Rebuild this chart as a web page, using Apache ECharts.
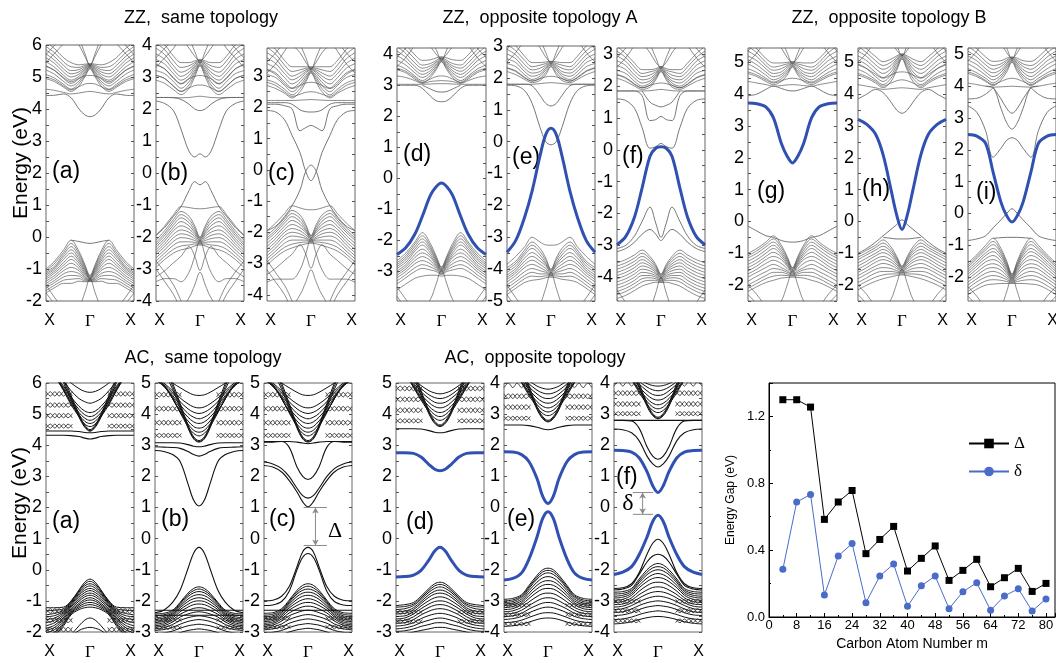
<!DOCTYPE html>
<html>
<head>
<meta charset="utf-8">
<script src="https://cdn.jsdelivr.net/npm/echarts@6/dist/echarts.min.js"></script>
<style>
html, body { margin: 0; padding: 0; background: #fff; }
#chart { width: 1056px; height: 663px; }
</style>
</head>
<body>
<div id="chart"></div>
<script>
// k points from Gamma (0) to X (1); every band is symmetric about Gamma
const kMain = [0, 0.12, 0.25, 0.43, 0.6, 0.8, 1];
const kSide = [0.4, 0.5, 0.6, 0.7, 0.8, 0.9, 1];

// ---------- ZZ, same topology ----------
const zzaBulk = [
    [-1.2, -0.85, -0.45, -0.1, -0.4, -0.75, -1.0],
    [-1.22, -0.9, -0.52, -0.2, -0.48, -0.82, -1.05],
    [-1.25, -0.95, -0.6, -0.3, -0.55, -0.9, -1.1],
    [-1.27, -1.0, -0.68, -0.4, -0.62, -0.95, -1.15],
    [-1.28, -1.05, -0.75, -0.5, -0.7, -1.0, -1.2],
    [-1.29, -1.1, -0.82, -0.6, -0.8, -1.06, -1.26],
    [-1.3, -1.15, -0.9, -0.7, -0.88, -1.12, -1.32],
    [-1.32, -1.2, -0.98, -0.82, -0.96, -1.2, -1.38],
    [-1.33, -1.25, -1.05, -0.95, -1.05, -1.27, -1.45],
    [-1.35, -1.29, -1.14, -1.08, -1.15, -1.35, -1.52],
    [-1.36, -1.33, -1.22, -1.2, -1.25, -1.42, -1.6],
    [-1.38, -1.37, -1.3, -1.32, -1.35, -1.5, -1.68],
    [-1.39, -1.4, -1.38, -1.45, -1.45, -1.58, -1.75],
    [-1.3, -1.75, -2.2, -2.5, -2.4, -2.2, -1.95],
    [-3, -3, -2.9, -2.6, -2.25, -1.9, -1.5],
    [-3, -3, -2.95, -2.7, -2.4, -2.1, -1.75],
    [4.55, 4.53, 4.5, 4.47, 4.52, 4.58, 4.62],
    [5.25, 5.0, 4.72, 4.55, 4.68, 4.85, 4.95],
    [5.27, 5.05, 4.8, 4.62, 4.77, 4.96, 5.08],
    [5.3, 5.1, 4.87, 4.72, 4.86, 5.08, 5.22],
    [5.32, 5.15, 4.95, 4.8, 4.95, 5.2, 5.35],
    [5.33, 5.2, 5.02, 4.9, 5.05, 5.3, 5.48],
    [5.35, 5.24, 5.09, 5.0, 5.15, 5.42, 5.6],
    [5.36, 5.28, 5.16, 5.1, 5.25, 5.52, 5.72],
    [5.38, 5.32, 5.23, 5.2, 5.36, 5.63, 5.85],
    [5.4, 5.36, 5.3, 5.32, 5.47, 5.75, 5.95],
    [5.42, 5.4, 5.38, 5.45, 5.6, 5.88, 6.1],
    [4.8, 4.78, 4.7, 4.6, 4.72, 4.9, 5.0],
    [5.05, 5.03, 4.96, 4.85, 4.98, 5.2, 5.33],
    [5.35, 5.75, 6.2, 6.6, 6.8, 6.8, 6.8],
    [5.38, 5.65, 6.0, 6.3, 6.4, 6.4, 6.4],
    [7, 7, 6.8, 6.4, 6.05, 5.75, 5.45],
    [7, 7, 6.9, 6.6, 6.3, 6.0, 5.7]
];
const zzaEdge = [
    [3.76, 3.82, 4.0, 4.35, 4.47, 4.43, 4.42],
    [-0.2, -0.18, -0.14, -0.1, null, null, null]
];
const zzbBulk = [
    [-1.12, -1.11, -1.08, -1.05, -1.3, -1.65, -1.95],
    [-2.0, -1.65, -1.35, -1.2, -1.45, -1.8, -2.1],
    [-2.02, -1.72, -1.45, -1.3, -1.53, -1.88, -2.18],
    [-2.05, -1.8, -1.55, -1.4, -1.62, -1.95, -2.25],
    [-2.07, -1.86, -1.65, -1.52, -1.71, -2.04, -2.32],
    [-2.1, -1.92, -1.75, -1.65, -1.8, -2.12, -2.4],
    [-2.12, -1.98, -1.85, -1.78, -1.91, -2.21, -2.48],
    [-2.15, -2.05, -1.95, -1.9, -2.02, -2.3, -2.55],
    [-2.17, -2.11, -2.05, -2.02, -2.13, -2.4, -2.65],
    [-2.2, -2.17, -2.15, -2.15, -2.25, -2.5, -2.75],
    [-2.22, -2.22, -2.25, -2.28, -2.38, -2.6, -2.85],
    [-2.25, -2.28, -2.35, -2.4, -2.5, -2.7, -2.95],
    [-2.1, -2.6, -3.1, -3.4, -3.3, -3.3, -3.4],
    [-3.05, -2.6, -2.3, -2.6, -2.8, -3.05, -3.25],
    [-3.1, -3.5, -3.9, -4.2, -4.2, -4.2, -4.2],
    [-5, -5, -4.6, -4.0, -3.5, -3.1, -2.75],
    [-5, -5, -4.8, -4.3, -3.8, -3.4, -3.0],
    [2.4, 2.38, 2.36, 2.35, 2.36, 2.36, 2.36],
    [3.35, 3.0, 2.65, 2.45, 2.6, 2.8, 2.9],
    [3.37, 3.08, 2.75, 2.55, 2.72, 2.95, 3.05],
    [3.4, 3.15, 2.85, 2.65, 2.85, 3.1, 3.2],
    [3.42, 3.22, 2.95, 2.78, 2.98, 3.25, 3.38],
    [3.45, 3.3, 3.05, 2.9, 3.1, 3.4, 3.55],
    [3.47, 3.35, 3.15, 3.02, 3.22, 3.55, 3.72],
    [3.5, 3.4, 3.25, 3.15, 3.35, 3.7, 3.9],
    [3.52, 3.45, 3.35, 3.3, 3.5, 3.85, 4.05],
    [3.55, 3.5, 3.45, 3.45, 3.65, 4.0, 4.2],
    [2.75, 2.73, 2.66, 2.55, 2.7, 2.95, 3.05],
    [3.05, 3.02, 2.95, 2.8, 2.95, 3.25, 3.4],
    [3.45, 3.8, 4.2, 4.5, 4.5, 4.5, 4.5],
    [3.5, 3.65, 3.9, 4.2, 4.3, 4.4, 4.4],
    [5, 5, 4.8, 4.3, 3.9, 3.6, 3.3],
    [5, 5, 4.9, 4.5, 4.2, 3.9, 3.6]
];
const zzbEdge = [
    [0.6, 0.5, 0.68, 1.36, 1.94, 2.17, 2.25],
    [1.95, 2.0, 2.15, 2.3, 2.35, 2.36, 2.36],
    [-0.37, -0.27, -0.55, -1.05, -1.35, -1.7, -1.95]
];
const zzcBulk = [
    [-1.28, -1.27, -1.22, -1.15, -1.4, -1.7, -1.95],
    [-2.1, -1.75, -1.45, -1.3, -1.55, -1.85, -2.1],
    [-2.12, -1.82, -1.55, -1.4, -1.62, -1.93, -2.18],
    [-2.15, -1.9, -1.65, -1.5, -1.7, -2.0, -2.25],
    [-2.17, -1.95, -1.75, -1.62, -1.8, -2.1, -2.35],
    [-2.2, -2.0, -1.85, -1.75, -1.9, -2.2, -2.45],
    [-2.22, -2.08, -1.95, -1.88, -2.0, -2.3, -2.55],
    [-2.25, -2.15, -2.05, -2.0, -2.1, -2.4, -2.65],
    [-2.27, -2.2, -2.15, -2.12, -2.22, -2.5, -2.75],
    [-2.3, -2.25, -2.25, -2.25, -2.35, -2.6, -2.85],
    [-2.32, -2.31, -2.33, -2.38, -2.48, -2.7, -2.95],
    [-2.35, -2.37, -2.42, -2.5, -2.6, -2.8, -3.05],
    [-2.2, -2.7, -3.2, -3.5, -3.5, -3.5, -3.6],
    [-3.15, -2.7, -2.4, -2.7, -2.9, -3.15, -3.35],
    [-3.2, -3.6, -4.0, -4.3, -4.3, -4.3, -4.3],
    [-5, -5, -4.8, -4.2, -3.7, -3.3, -2.9],
    [-5, -5, -4.9, -4.5, -4.0, -3.6, -3.2],
    [2.25, 2.24, 2.23, 2.22, 2.22, 2.22, 2.22],
    [3.1, 2.8, 2.5, 2.3, 2.45, 2.6, 2.7],
    [3.12, 2.88, 2.6, 2.4, 2.58, 2.78, 2.88],
    [3.15, 2.95, 2.7, 2.5, 2.7, 2.95, 3.05],
    [3.17, 3.02, 2.8, 2.62, 2.82, 3.1, 3.22],
    [3.2, 3.1, 2.9, 2.75, 2.95, 3.25, 3.4],
    [3.22, 3.15, 3.0, 2.88, 3.08, 3.4, 3.58],
    [3.25, 3.2, 3.1, 3.0, 3.2, 3.55, 3.75],
    [3.27, 3.25, 3.2, 3.15, 3.35, 3.7, 3.92],
    [3.3, 3.3, 3.3, 3.3, 3.5, 3.85, 4.1],
    [2.5, 2.48, 2.42, 2.35, 2.5, 2.7, 2.8],
    [2.8, 2.78, 2.7, 2.6, 2.75, 3.05, 3.2],
    [3.2, 3.6, 4.0, 4.3, 4.3, 4.3, 4.3],
    [3.25, 3.45, 3.75, 4.0, 4.1, 4.2, 4.2],
    [5, 5, 4.8, 4.2, 3.8, 3.4, 3.1],
    [5, 5, 4.9, 4.5, 4.1, 3.75, 3.45]
];
const zzcEdge = [
    [-0.35, -0.05, 0.55, 1.1, 1.6, 1.85, 1.9],
    [0.15, -0.05, -0.65, -1.15, -1.5, -1.8, -1.95],
    [1.42, 1.35, 1.25, 1.95, 2.05, 2.1, 2.1],
    [1.85, 1.86, 1.92, 2.1, 2.15, 2.15, 2.15]
];

// ---------- ZZ, opposite topology A ----------
const zzdBulk = [
    [-2.85, -2.5, -2.1, -1.75, -2.05, -2.4, -2.65],
    [-2.87, -2.55, -2.18, -1.85, -2.12, -2.48, -2.72],
    [-2.9, -2.6, -2.25, -1.95, -2.2, -2.55, -2.78],
    [-2.92, -2.65, -2.32, -2.05, -2.28, -2.62, -2.84],
    [-2.95, -2.7, -2.4, -2.15, -2.35, -2.7, -2.9],
    [-2.97, -2.75, -2.48, -2.28, -2.45, -2.78, -2.98],
    [-3.0, -2.8, -2.55, -2.4, -2.55, -2.85, -3.05],
    [-3.02, -2.85, -2.65, -2.52, -2.65, -2.92, -3.12],
    [-3.05, -2.9, -2.75, -2.65, -2.75, -3.0, -3.2],
    [-3.07, -2.95, -2.85, -2.78, -2.88, -3.1, -3.3],
    [-3.1, -3.0, -2.95, -2.9, -3.0, -3.2, -3.4],
    [-3.15, -3.12, -3.12, -3.15, -3.22, -3.4, -3.6],
    [-2.95, -3.4, -3.9, -4.2, -4.2, -4.2, -4.2],
    [-6, -6, -5.5, -4.8, -4.3, -3.9, -3.5],
    [-6, -6, -5.8, -5.2, -4.6, -4.2, -3.8],
    [3.05, 3.05, 3.04, 3.03, 3.03, 3.03, 3.03],
    [3.75, 3.5, 3.25, 3.08, 3.2, 3.4, 3.5],
    [3.77, 3.55, 3.32, 3.15, 3.3, 3.52, 3.65],
    [3.8, 3.6, 3.4, 3.25, 3.4, 3.65, 3.8],
    [3.82, 3.65, 3.47, 3.35, 3.5, 3.78, 3.95],
    [3.85, 3.7, 3.55, 3.45, 3.6, 3.9, 4.1],
    [3.87, 3.75, 3.62, 3.55, 3.72, 4.02, 4.25],
    [3.9, 3.8, 3.7, 3.65, 3.85, 4.15, 4.4],
    [3.92, 3.88, 3.82, 3.8, 3.98, 4.3, 4.55],
    [3.15, 3.14, 3.12, 3.06, 3.15, 3.25, 3.3],
    [3.3, 3.28, 3.2, 3.1, 3.25, 3.45, 3.55],
    [3.8, 4.15, 4.5, 4.8, 4.8, 4.8, 4.8],
    [3.85, 4.0, 4.25, 4.5, 4.6, 4.6, 4.6],
    [5.5, 5.5, 5.3, 4.8, 4.3, 3.9, 3.6],
    [5.5, 5.5, 5.4, 5.0, 4.6, 4.2, 3.9]
];
const zzdEdge = [
    [2.47, 2.5, 2.65, 2.9, 3.0, 3.0, 3.0],
    [2.78, 2.8, 2.88, 3.0, null, null, null]
];
const zzdBlue = [[-0.15, -0.27, -0.55, -1.22, -1.8, -2.23, -2.45]];
const zzeBulk = [
    [-3.25, -3.24, -3.15, -3.0, -3.3, -3.6, -3.85],
    [-4.0, -3.65, -3.35, -3.15, -3.4, -3.75, -3.95],
    [-4.02, -3.72, -3.45, -3.25, -3.48, -3.82, -4.02],
    [-4.05, -3.8, -3.55, -3.35, -3.55, -3.9, -4.1],
    [-4.07, -3.85, -3.65, -3.48, -3.65, -3.98, -4.18],
    [-4.1, -3.9, -3.75, -3.6, -3.75, -4.05, -4.25],
    [-4.12, -3.98, -3.85, -3.72, -3.85, -4.12, -4.32],
    [-4.15, -4.05, -3.95, -3.85, -3.95, -4.2, -4.4],
    [-4.17, -4.1, -4.05, -3.98, -4.08, -4.3, -4.5],
    [-4.2, -4.15, -4.15, -4.1, -4.2, -4.4, -4.6],
    [-4.22, -4.21, -4.24, -4.22, -4.3, -4.5, -4.7],
    [-4.25, -4.27, -4.32, -4.35, -4.42, -4.6, -4.8],
    [-4.1, -4.6, -5.1, -5.4, -5.4, -5.4, -5.4],
    [-7, -7, -6.5, -5.8, -5.3, -4.9, -4.5],
    [-7, -7, -6.8, -6.2, -5.6, -5.2, -4.8],
    [1.85, 1.84, 1.82, 1.8, 1.8, 1.8, 1.8],
    [2.35, 2.1, 1.92, 1.85, 1.95, 2.1, 2.2],
    [2.37, 2.17, 1.98, 1.9, 2.02, 2.22, 2.32],
    [2.4, 2.25, 2.05, 1.95, 2.1, 2.35, 2.45],
    [2.42, 2.3, 2.12, 2.05, 2.2, 2.48, 2.6],
    [2.45, 2.35, 2.2, 2.15, 2.3, 2.6, 2.75],
    [2.47, 2.4, 2.3, 2.25, 2.42, 2.72, 2.9],
    [2.5, 2.45, 2.4, 2.35, 2.55, 2.85, 3.05],
    [2.52, 2.5, 2.48, 2.48, 2.68, 3.0, 3.2],
    [2.05, 2.03, 1.98, 1.9, 2.0, 2.2, 2.3],
    [2.45, 2.8, 3.2, 3.5, 3.5, 3.5, 3.5],
    [2.5, 2.65, 2.95, 3.25, 3.35, 3.4, 3.4],
    [4.5, 4.5, 4.3, 3.7, 3.2, 2.8, 2.5],
    [4.5, 4.5, 4.4, 4.0, 3.6, 3.2, 2.9]
];
const zzeEdge = [
    [-0.1, 0.0, 0.45, 1.2, 1.6, 1.75, 1.77],
    [1.12, 1.2, 1.45, 1.75, 1.8, 1.8, 1.8]
];
const zzeBlue = [[0.42, 0.22, -0.45, -1.55, -2.37, -3.1, -3.47]];
const zzfBulk = [
    [-3.9, -3.6, -3.35, -3.15, -3.3, -3.45, -3.55],
    [-3.92, -3.65, -3.42, -3.25, -3.4, -3.55, -3.65],
    [-3.95, -3.7, -3.5, -3.35, -3.5, -3.65, -3.75],
    [-3.97, -3.75, -3.58, -3.45, -3.6, -3.75, -3.85],
    [-4.0, -3.8, -3.65, -3.55, -3.7, -3.85, -3.95],
    [-4.02, -3.85, -3.72, -3.65, -3.8, -3.95, -4.05],
    [-4.05, -3.9, -3.8, -3.75, -3.9, -4.05, -4.15],
    [-4.07, -3.95, -3.88, -3.85, -4.0, -4.15, -4.25],
    [-4.1, -4.0, -3.95, -3.95, -4.1, -4.25, -4.35],
    [-4.12, -4.05, -4.02, -4.05, -4.2, -4.35, -4.45],
    [-4.15, -4.1, -4.1, -4.15, -4.3, -4.45, -4.55],
    [-4.17, -4.16, -4.2, -4.28, -4.42, -4.57, -4.67],
    [-4.0, -4.5, -5.0, -5.3, -5.3, -5.3, -5.3],
    [-7, -7, -6.5, -5.8, -5.2, -4.8, -4.4],
    [-7, -7, -6.8, -6.2, -5.6, -5.1, -4.7],
    [1.9, 1.88, 1.86, 1.85, 1.85, 1.85, 1.85],
    [2.45, 2.2, 1.97, 1.9, 2.0, 2.15, 2.25],
    [2.47, 2.25, 2.03, 1.95, 2.07, 2.27, 2.37],
    [2.5, 2.3, 2.1, 2.0, 2.15, 2.4, 2.5],
    [2.52, 2.35, 2.17, 2.1, 2.25, 2.52, 2.65],
    [2.55, 2.4, 2.25, 2.2, 2.35, 2.65, 2.8],
    [2.57, 2.45, 2.35, 2.3, 2.47, 2.78, 2.95],
    [2.6, 2.5, 2.45, 2.4, 2.6, 2.9, 3.1],
    [2.62, 2.55, 2.52, 2.52, 2.72, 3.02, 3.25],
    [2.1, 2.08, 2.03, 1.95, 2.05, 2.25, 2.35],
    [2.55, 2.9, 3.3, 3.6, 3.6, 3.6, 3.6],
    [2.6, 2.75, 3.05, 3.35, 3.45, 3.5, 3.5],
    [4.5, 4.5, 4.3, 3.8, 3.3, 2.9, 2.6],
    [4.5, 4.5, 4.4, 4.0, 3.6, 3.2, 2.9]
];
const zzfEdge = [
    [0.2, 0.1, 0.05, 0.7, 1.3, 1.55, 1.6],
    [1.05, 0.95, 0.92, 1.7, 1.85, 1.85, 1.85],
    [1.35, 1.4, 1.5, 1.85, null, null, null],
    [-2.75, -2.3, -1.8, -2.25, -2.7, -3.0, -3.1],
    [-2.85, -2.65, -2.5, -2.65, -2.9, -3.1, -3.2]
];
const zzfBlue = [[0.1, 0.05, -0.2, -1.2, -2.1, -2.72, -2.98]];

// ---------- ZZ, opposite topology B ----------
const zzgBulk = [
    [-1.45, -1.1, -0.75, -0.45, -0.65, -0.85, -1.0],
    [-1.47, -1.15, -0.82, -0.55, -0.72, -0.92, -1.08],
    [-1.5, -1.2, -0.9, -0.65, -0.8, -1.0, -1.15],
    [-1.52, -1.25, -0.98, -0.75, -0.9, -1.1, -1.25],
    [-1.55, -1.3, -1.05, -0.85, -1.0, -1.2, -1.35],
    [-1.57, -1.35, -1.12, -0.97, -1.1, -1.3, -1.45],
    [-1.6, -1.4, -1.2, -1.1, -1.2, -1.4, -1.55],
    [-1.62, -1.48, -1.32, -1.22, -1.32, -1.5, -1.65],
    [-1.65, -1.55, -1.45, -1.35, -1.45, -1.6, -1.75],
    [-1.67, -1.6, -1.52, -1.48, -1.58, -1.72, -1.88],
    [-1.7, -1.65, -1.6, -1.6, -1.7, -1.85, -2.0],
    [-1.72, -1.7, -1.69, -1.72, -1.8, -1.95, -2.1],
    [-1.75, -1.76, -1.78, -1.85, -1.92, -2.05, -2.2],
    [-1.55, -2.0, -2.5, -2.8, -2.8, -2.8, -2.8],
    [-4, -4, -3.6, -3.1, -2.7, -2.3, -2.0],
    [-4, -4, -3.8, -3.4, -3.0, -2.6, -2.3],
    [4.3, 4.29, 4.27, 4.25, 4.3, 4.35, 4.4],
    [4.85, 4.6, 4.4, 4.3, 4.4, 4.55, 4.65],
    [4.87, 4.66, 4.48, 4.38, 4.5, 4.68, 4.8],
    [4.9, 4.72, 4.55, 4.45, 4.6, 4.8, 4.95],
    [4.92, 4.78, 4.62, 4.55, 4.7, 4.92, 5.08],
    [4.95, 4.85, 4.7, 4.65, 4.8, 5.05, 5.2],
    [4.97, 4.9, 4.8, 4.75, 4.9, 5.18, 5.35],
    [5.0, 4.95, 4.9, 4.85, 5.0, 5.3, 5.5],
    [5.02, 5.0, 4.98, 4.98, 5.12, 5.42, 5.65],
    [4.5, 4.48, 4.42, 4.35, 4.45, 4.6, 4.7],
    [4.95, 5.3, 5.7, 6.0, 6.0, 6.0, 6.0],
    [5.0, 5.15, 5.45, 5.75, 5.85, 5.9, 5.9],
    [7, 7, 6.7, 6.2, 5.7, 5.3, 5.0],
    [7, 7, 6.9, 6.5, 6.1, 5.7, 5.35]
];
const zzgEdge = [
    [4.1, 4.12, 4.18, 4.25, 4.15, 4.0, 3.95],
    [-0.65, -0.64, -0.6, -0.5, -0.45, -0.3, -0.15]
];
const zzgBlue = [[1.84, 2.05, 2.45, 3.26, 3.6, 3.7, 3.72]];
const zzhBulk = [
    [-1.4, -1.1, -0.8, -0.58, -0.75, -0.9, -1.05],
    [-1.42, -1.15, -0.88, -0.68, -0.82, -0.98, -1.12],
    [-1.45, -1.2, -0.95, -0.78, -0.9, -1.05, -1.2],
    [-1.47, -1.25, -1.02, -0.88, -1.0, -1.15, -1.3],
    [-1.5, -1.3, -1.1, -0.98, -1.08, -1.25, -1.4],
    [-1.52, -1.36, -1.2, -1.1, -1.18, -1.35, -1.5],
    [-1.55, -1.42, -1.28, -1.2, -1.28, -1.45, -1.6],
    [-1.57, -1.48, -1.38, -1.32, -1.4, -1.55, -1.7],
    [-1.6, -1.55, -1.48, -1.45, -1.5, -1.65, -1.8],
    [-1.62, -1.6, -1.57, -1.57, -1.62, -1.77, -1.92],
    [-1.65, -1.65, -1.65, -1.68, -1.75, -1.88, -2.02],
    [-1.68, -1.7, -1.74, -1.8, -1.88, -2.0, -2.15],
    [-1.5, -1.95, -2.45, -2.8, -2.8, -2.8, -2.8],
    [-4, -4, -3.6, -3.1, -2.7, -2.3, -2.0],
    [-4, -4, -3.8, -3.4, -3.0, -2.6, -2.3],
    [4.2, 4.19, 4.17, 4.15, 4.2, 4.25, 4.3],
    [5.1, 4.75, 4.4, 4.2, 4.35, 4.5, 4.6],
    [5.12, 4.82, 4.5, 4.3, 4.45, 4.65, 4.78],
    [5.15, 4.9, 4.6, 4.4, 4.55, 4.8, 4.95],
    [5.17, 4.98, 4.7, 4.52, 4.68, 4.92, 5.08],
    [5.2, 5.05, 4.8, 4.65, 4.8, 5.05, 5.2],
    [5.22, 5.1, 4.9, 4.78, 4.92, 5.18, 5.35],
    [5.25, 5.15, 5.0, 4.9, 5.05, 5.3, 5.5],
    [5.27, 5.2, 5.1, 5.02, 5.18, 5.42, 5.65],
    [4.45, 4.42, 4.35, 4.25, 4.4, 4.55, 4.65],
    [4.7, 4.68, 4.6, 4.5, 4.62, 4.8, 4.92],
    [5.2, 5.55, 5.95, 6.2, 6.2, 6.2, 6.2],
    [5.22, 5.38, 5.65, 5.95, 6.05, 6.1, 6.1],
    [7, 7, 6.7, 6.2, 5.7, 5.3, 5.0],
    [7, 7, 6.9, 6.5, 6.1, 5.7, 5.35]
];
const zzhEdge = [
    [3.4, 3.5, 3.75, 4.05, 4.15, 4.0, 3.85],
    [0.05, -0.1, -0.25, -0.45, -0.65, -0.85, -1.0],
    [-0.55, -0.55, -0.53, -0.5, null, null, null]
];
const zzhBlue = [[-0.25, 0.2, 1.0, 2.1, 2.74, 3.05, 3.21]];
const zziBulk = [
    [-1.9, -1.5, -1.1, -0.78, -1.0, -1.3, -1.55],
    [-1.92, -1.55, -1.18, -0.88, -1.08, -1.36, -1.62],
    [-1.95, -1.6, -1.25, -0.98, -1.15, -1.42, -1.68],
    [-1.97, -1.65, -1.32, -1.1, -1.24, -1.5, -1.75],
    [-2.0, -1.7, -1.4, -1.2, -1.32, -1.58, -1.82],
    [-2.02, -1.76, -1.5, -1.32, -1.42, -1.66, -1.9],
    [-2.05, -1.82, -1.58, -1.45, -1.52, -1.75, -1.98],
    [-2.07, -1.88, -1.68, -1.58, -1.64, -1.85, -2.06],
    [-2.1, -1.95, -1.78, -1.7, -1.75, -1.95, -2.15],
    [-2.12, -2.02, -1.9, -1.82, -1.88, -2.05, -2.25],
    [-2.15, -2.08, -2.0, -1.95, -2.0, -2.15, -2.35],
    [-2.17, -2.14, -2.1, -2.08, -2.12, -2.27, -2.45],
    [-2.2, -2.2, -2.2, -2.22, -2.25, -2.38, -2.55],
    [-2.0, -2.45, -2.95, -3.2, -3.2, -3.2, -3.2],
    [-4, -4, -3.8, -3.4, -3.0, -2.6, -2.3],
    [-4, -4, -3.9, -3.6, -3.3, -2.9, -2.6],
    [4.0, 3.99, 3.98, 3.97, 4.0, 4.05, 4.1],
    [4.75, 4.45, 4.2, 4.02, 4.15, 4.3, 4.4],
    [4.77, 4.52, 4.28, 4.1, 4.25, 4.42, 4.55],
    [4.8, 4.6, 4.35, 4.2, 4.35, 4.55, 4.7],
    [4.82, 4.66, 4.44, 4.3, 4.45, 4.68, 4.82],
    [4.85, 4.72, 4.52, 4.42, 4.55, 4.8, 4.95],
    [4.87, 4.77, 4.62, 4.53, 4.67, 4.92, 5.1],
    [4.9, 4.82, 4.7, 4.65, 4.78, 5.05, 5.25],
    [4.92, 4.88, 4.8, 4.78, 4.92, 5.18, 5.4],
    [4.25, 4.22, 4.15, 4.05, 4.18, 4.35, 4.45],
    [4.85, 5.2, 5.6, 5.9, 5.9, 5.9, 5.9],
    [4.88, 5.05, 5.35, 5.65, 5.75, 5.8, 5.8],
    [7, 7, 6.6, 6.0, 5.5, 5.1, 4.8],
    [7, 7, 6.8, 6.3, 5.9, 5.5, 5.15]
];
const zziEdge = [
    [2.38, 2.3, 2.05, 1.77, 2.6, 3.18, 3.38],
    [2.65, 2.85, 3.3, 3.95, 4.0, null, null],
    [3.15, 3.3, 3.6, 3.97, null, null, null],
    [null, null, null, 3.95, 3.75, 3.62, 3.6],
    [0.15, 0.0, -0.2, -0.45, -0.7, -0.8, -0.85],
    [-0.75, -0.75, -0.76, -0.78, null, null, null]
];
const zziBlue = [[-0.27, -0.07, 0.35, 1.3, 2.2, 2.43, 2.48]];

// ---------- AC, same topology ----------
const acaBulk = [
    [4.45, 4.58, 4.9, 5.45, 6.0, 6.6, 7.0],
    [4.47, 4.61, 4.95, 5.52, 6.08, 6.65, 7.0],
    [4.5, 4.65, 5.0, 5.6, 6.18, 6.75, 7.0],
    [4.6, 4.68, 4.92, 5.3, 5.75, 6.2, 6.5],
    [4.7, 4.77, 4.98, 5.35, 5.78, 6.2, 6.45],
    [4.8, 4.87, 5.05, 5.4, 5.8, 6.2, 6.4],
    [4.92, 4.98, 5.15, 5.48, 5.85, 6.2, 6.4],
    [5.05, 5.1, 5.25, 5.55, 5.9, 6.2, 6.4],
    [5.35, 5.4, 5.5, 5.75, 6.05, 6.3, 6.5],
    [5.7, 5.73, 5.82, 6.0, 6.2, 6.4, 6.5],
    [-0.3, -0.4, -0.65, -1.0, -1.2, -1.22, -1.22],
    [-0.37, -0.46, -0.68, -1.02, -1.25, -1.3, -1.32],
    [-0.45, -0.52, -0.72, -1.05, -1.3, -1.4, -1.45],
    [-0.52, -0.59, -0.77, -1.08, -1.34, -1.47, -1.52],
    [-0.6, -0.66, -0.82, -1.12, -1.38, -1.55, -1.6],
    [-0.67, -0.73, -0.88, -1.16, -1.43, -1.62, -1.7],
    [-0.75, -0.8, -0.95, -1.2, -1.48, -1.7, -1.8],
    [-0.82, -0.87, -1.01, -1.25, -1.53, -1.78, -1.88],
    [-0.9, -0.95, -1.08, -1.3, -1.58, -1.85, -1.95],
    [-0.97, -1.01, -1.13, -1.34, -1.64, -1.92, -2.02],
    [-1.05, -1.08, -1.18, -1.38, -1.7, -2.0, -2.1],
    [-1.12, -1.15, -1.23, -1.41, -1.75, -2.05, -2.2],
    [-1.2, -1.22, -1.28, -1.45, -1.8, -2.1, -2.3],
    [-1.55, -1.62, -1.8, -2.1, -2.4, -2.6, -2.7],
    [-1.85, -1.88, -1.95, -2.15, -2.4, -2.6, -2.7]
];
const acaEdge = [
    [4.2, 4.23, 4.28, 4.31, 4.32, 4.32, 4.32],
    [4.4, 4.41, 4.44, 4.46, 4.46, 4.46, 4.46]
];
const acaMesh = [
    [4.55, 4.68, 4.55, 4.68, 4.55, 4.68, 4.55],
    [4.68, 4.55, 4.68, 4.55, 4.68, 4.55, 4.68],
    [4.88, 5.02, 4.88, 5.02, 4.88, 5.02, 4.88],
    [5.02, 4.88, 5.02, 4.88, 5.02, 4.88, 5.02],
    [5.22, 5.36, 5.22, 5.36, 5.22, 5.36, 5.22],
    [5.36, 5.22, 5.36, 5.22, 5.36, 5.22, 5.36],
    [5.58, 5.72, 5.58, 5.72, 5.58, 5.72, 5.58],
    [5.72, 5.58, 5.72, 5.58, 5.72, 5.58, 5.72],
    [-1.25, -1.4, -1.25, -1.4, -1.25, -1.4, -1.25],
    [-1.4, -1.25, -1.4, -1.25, -1.4, -1.25, -1.4],
    [-1.55, -1.7, -1.55, -1.7, -1.55, -1.7, -1.55],
    [-1.7, -1.55, -1.7, -1.55, -1.7, -1.55, -1.7],
    [-1.85, -2.0, -1.85, -2.0, -1.85, -2.0, -1.85],
    [-2.0, -1.85, -2.0, -1.85, -2.0, -1.85, -2.0]
];
const acbBulk = [
    [3.1, 3.2, 3.55, 4.2, 4.8, 5.4, 6.0],
    [3.12, 3.23, 3.6, 4.28, 4.9, 5.5, 6.0],
    [3.15, 3.27, 3.65, 4.35, 5.0, 5.6, 6.0],
    [3.3, 3.38, 3.6, 4.05, 4.5, 4.95, 5.2],
    [3.42, 3.48, 3.68, 4.07, 4.5, 4.92, 5.15],
    [3.55, 3.6, 3.78, 4.1, 4.5, 4.9, 5.1],
    [3.7, 3.75, 3.9, 4.2, 4.55, 4.9, 5.1],
    [3.85, 3.9, 4.02, 4.3, 4.6, 4.9, 5.1],
    [4.02, 4.06, 4.17, 4.4, 4.68, 4.95, 5.15],
    [4.2, 4.23, 4.33, 4.52, 4.75, 5.0, 5.2],
    [4.6, 4.62, 4.7, 4.85, 5.0, 5.2, 5.3],
    [-1.55, -1.6, -1.75, -2.05, -2.3, -2.4, -2.42],
    [-1.62, -1.67, -1.8, -2.08, -2.34, -2.45, -2.48],
    [-1.7, -1.74, -1.86, -2.12, -2.38, -2.5, -2.55],
    [-1.8, -1.83, -1.94, -2.17, -2.42, -2.55, -2.6],
    [-1.9, -1.93, -2.02, -2.22, -2.45, -2.6, -2.65],
    [-2.0, -2.02, -2.11, -2.28, -2.5, -2.65, -2.7],
    [-2.1, -2.12, -2.2, -2.35, -2.55, -2.7, -2.75],
    [-2.22, -2.24, -2.31, -2.43, -2.61, -2.75, -2.8],
    [-2.35, -2.37, -2.42, -2.52, -2.68, -2.8, -2.85],
    [-2.48, -2.5, -2.54, -2.63, -2.76, -2.86, -2.9],
    [-2.6, -2.62, -2.66, -2.75, -2.85, -2.92, -2.95],
    [-2.75, -2.77, -2.8, -2.88, -2.97, -3.03, -3.05],
    [-2.9, -2.92, -2.95, -3.02, -3.1, -3.15, -3.15]
];
const acbEdge = [
    [1.05, 1.23, 1.76, 2.48, 2.7, 2.8, 2.83],
    [2.65, 2.7, 2.8, 2.9, 2.93, 2.94, 2.95],
    [2.95, 2.97, 3.02, 3.07, 3.08, 3.08, 3.08],
    [-0.28, -0.46, -0.96, -1.66, -2.05, -2.3, -2.38],
    [-2.3, -2.3, -2.3, -2.3, -2.3, -2.3, -2.3],
    [-2.46, -2.46, -2.46, -2.46, -2.46, -2.46, -2.46]
];
const acbMesh = [
    [3.25, 3.38, 3.25, 3.38, 3.25, 3.38, 3.25],
    [3.38, 3.25, 3.38, 3.25, 3.38, 3.25, 3.38],
    [3.65, 3.8, 3.65, 3.8, 3.65, 3.8, 3.65],
    [3.8, 3.65, 3.8, 3.65, 3.8, 3.65, 3.8],
    [4.1, 4.25, 4.1, 4.25, 4.1, 4.25, 4.1],
    [4.25, 4.1, 4.25, 4.1, 4.25, 4.1, 4.25],
    [4.55, 4.7, 4.55, 4.7, 4.55, 4.7, 4.55],
    [4.7, 4.55, 4.7, 4.55, 4.7, 4.55, 4.7],
    [-2.55, -2.67, -2.55, -2.67, -2.55, -2.67, -2.55],
    [-2.67, -2.55, -2.67, -2.55, -2.67, -2.55, -2.67],
    [-2.8, -2.92, -2.8, -2.92, -2.8, -2.92, -2.8],
    [-2.92, -2.8, -2.92, -2.8, -2.92, -2.8, -2.92]
];
const accBulk = [
    [3.1, 3.2, 3.55, 4.2, 4.8, 5.4, 6.0],
    [3.12, 3.23, 3.6, 4.28, 4.9, 5.5, 6.0],
    [3.15, 3.27, 3.65, 4.35, 5.0, 5.6, 6.0],
    [3.3, 3.38, 3.6, 4.05, 4.5, 4.95, 5.2],
    [3.42, 3.48, 3.68, 4.07, 4.5, 4.92, 5.15],
    [3.55, 3.6, 3.78, 4.1, 4.5, 4.9, 5.1],
    [3.7, 3.75, 3.9, 4.2, 4.55, 4.9, 5.1],
    [3.85, 3.9, 4.02, 4.3, 4.6, 4.9, 5.1],
    [4.02, 4.06, 4.17, 4.4, 4.68, 4.95, 5.15],
    [4.2, 4.23, 4.33, 4.52, 4.75, 5.0, 5.2],
    [4.6, 4.62, 4.7, 4.85, 5.0, 5.2, 5.3],
    [-1.45, -1.5, -1.66, -1.98, -2.25, -2.38, -2.4],
    [-1.53, -1.58, -1.72, -2.02, -2.29, -2.43, -2.46],
    [-1.62, -1.66, -1.78, -2.06, -2.33, -2.48, -2.52],
    [-1.72, -1.75, -1.86, -2.11, -2.37, -2.53, -2.57],
    [-1.82, -1.85, -1.95, -2.17, -2.42, -2.58, -2.62],
    [-1.93, -1.96, -2.05, -2.23, -2.47, -2.63, -2.67],
    [-2.05, -2.07, -2.15, -2.3, -2.52, -2.68, -2.72],
    [-2.17, -2.19, -2.26, -2.39, -2.58, -2.73, -2.77],
    [-2.3, -2.32, -2.38, -2.48, -2.65, -2.78, -2.82],
    [-2.44, -2.46, -2.51, -2.6, -2.74, -2.84, -2.88],
    [-2.58, -2.6, -2.64, -2.72, -2.83, -2.9, -2.93],
    [-2.73, -2.75, -2.78, -2.86, -2.95, -3.01, -3.03],
    [-2.88, -2.9, -2.93, -3.0, -3.08, -3.13, -3.14]
];
const accEdge = [
    [1.02, 1.18, 1.5, 1.87, 2.14, 2.3, 2.35],
    [1.3, 1.38, 1.62, 2.0, 2.25, 2.4, 2.46],
    [1.9, 2.0, 2.3, 2.94, 3.12, 3.1, 3.1],
    [3.05, 3.07, 3.1, 3.12, 3.12, 3.12, 3.12],
    [-0.28, -0.42, -0.9, -1.55, -1.85, -1.98, -2.0],
    [-0.48, -0.6, -1.0, -1.7, -2.02, -2.13, -2.15],
    [-2.3, -2.3, -2.3, -2.3, -2.3, -2.3, -2.3]
];
const accMesh = [
    [3.25, 3.38, 3.25, 3.38, 3.25, 3.38, 3.25],
    [3.38, 3.25, 3.38, 3.25, 3.38, 3.25, 3.38],
    [3.65, 3.8, 3.65, 3.8, 3.65, 3.8, 3.65],
    [3.8, 3.65, 3.8, 3.65, 3.8, 3.65, 3.8],
    [4.1, 4.25, 4.1, 4.25, 4.1, 4.25, 4.1],
    [4.25, 4.1, 4.25, 4.1, 4.25, 4.1, 4.25],
    [4.55, 4.7, 4.55, 4.7, 4.55, 4.7, 4.55],
    [4.7, 4.55, 4.7, 4.55, 4.7, 4.55, 4.7],
    [-2.5, -2.62, -2.5, -2.62, -2.5, -2.62, -2.5],
    [-2.62, -2.5, -2.62, -2.5, -2.62, -2.5, -2.62],
    [-2.78, -2.9, -2.78, -2.9, -2.78, -2.9, -2.78],
    [-2.9, -2.78, -2.9, -2.78, -2.9, -2.78, -2.9]
];

// ---------- AC, opposite topology ----------
const acdBulk = [
    [3.6, 3.7, 4.0, 4.6, 5.2, 5.8, 6.3],
    [3.62, 3.73, 4.05, 4.68, 5.3, 5.9, 6.3],
    [3.65, 3.77, 4.1, 4.75, 5.4, 6.0, 6.3],
    [3.8, 3.87, 4.07, 4.45, 4.85, 5.3, 5.5],
    [3.92, 3.98, 4.16, 4.5, 4.88, 5.28, 5.45],
    [4.05, 4.1, 4.25, 4.55, 4.9, 5.25, 5.4],
    [4.2, 4.24, 4.37, 4.63, 4.95, 5.28, 5.4],
    [4.35, 4.38, 4.5, 4.72, 5.0, 5.3, 5.4],
    [4.5, 4.53, 4.62, 4.82, 5.05, 5.3, 5.4],
    [4.65, 4.68, 4.75, 4.92, 5.1, 5.3, 5.4],
    [-1.4, -1.45, -1.6, -1.85, -2.05, -2.12, -2.15],
    [-1.47, -1.52, -1.66, -1.9, -2.1, -2.18, -2.2],
    [-1.55, -1.6, -1.72, -1.95, -2.15, -2.25, -2.28],
    [-1.65, -1.69, -1.8, -2.02, -2.22, -2.33, -2.35],
    [-1.75, -1.78, -1.88, -2.08, -2.28, -2.4, -2.42],
    [-1.87, -1.9, -1.99, -2.16, -2.35, -2.48, -2.5],
    [-2.0, -2.02, -2.1, -2.25, -2.42, -2.55, -2.58],
    [-2.12, -2.14, -2.21, -2.35, -2.51, -2.62, -2.65],
    [-2.25, -2.27, -2.33, -2.45, -2.6, -2.7, -2.72],
    [-2.4, -2.42, -2.47, -2.57, -2.7, -2.78, -2.81],
    [-2.55, -2.57, -2.62, -2.7, -2.8, -2.87, -2.9],
    [-2.7, -2.71, -2.76, -2.82, -2.9, -2.96, -2.98],
    [-2.85, -2.86, -2.9, -2.95, -3.0, -3.05, -3.05]
];
const acdEdge = [[3.4, 3.42, 3.47, 3.52, 3.53, 3.53, 3.53]];
const acdMesh = [
    [3.72, 3.85, 3.72, 3.85, 3.72, 3.85, 3.72],
    [3.85, 3.72, 3.85, 3.72, 3.85, 3.72, 3.85],
    [4.05, 4.2, 4.05, 4.2, 4.05, 4.2, 4.05],
    [4.2, 4.05, 4.2, 4.05, 4.2, 4.05, 4.2],
    [4.4, 4.55, 4.4, 4.55, 4.4, 4.55, 4.4],
    [4.55, 4.4, 4.55, 4.4, 4.55, 4.4, 4.55],
    [4.75, 4.9, 4.75, 4.9, 4.75, 4.9, 4.75],
    [4.9, 4.75, 4.9, 4.75, 4.9, 4.75, 4.9],
    [-2.3, -2.42, -2.3, -2.42, -2.3, -2.42, -2.3],
    [-2.42, -2.3, -2.42, -2.3, -2.42, -2.3, -2.42],
    [-2.6, -2.72, -2.6, -2.72, -2.6, -2.72, -2.6],
    [-2.72, -2.6, -2.72, -2.6, -2.72, -2.6, -2.72]
];
const acdBlue = [
    [2.18, 2.23, 2.38, 2.62, 2.74, 2.76, 2.76],
    [-0.28, -0.4, -0.68, -1.02, -1.17, -1.22, -1.23]
];
const aceBulk = [
    [2.75, 2.85, 3.15, 3.75, 4.3, 4.9, 5.4],
    [2.77, 2.88, 3.2, 3.82, 4.4, 5.0, 5.4],
    [2.8, 2.92, 3.25, 3.9, 4.5, 5.1, 5.4],
    [2.95, 3.02, 3.22, 3.6, 4.0, 4.45, 4.7],
    [3.07, 3.13, 3.31, 3.65, 4.02, 4.42, 4.65],
    [3.2, 3.25, 3.4, 3.7, 4.05, 4.4, 4.6],
    [3.35, 3.39, 3.52, 3.78, 4.1, 4.42, 4.6],
    [3.5, 3.53, 3.65, 3.87, 4.15, 4.45, 4.6],
    [3.65, 3.68, 3.77, 3.97, 4.2, 4.45, 4.58],
    [3.8, 3.83, 3.9, 4.07, 4.25, 4.45, 4.55],
    [-1.95, -2.0, -2.18, -2.5, -2.8, -2.92, -2.95],
    [-2.02, -2.07, -2.24, -2.55, -2.84, -2.97, -3.0],
    [-2.1, -2.15, -2.3, -2.6, -2.88, -3.02, -3.05],
    [-2.22, -2.26, -2.4, -2.67, -2.94, -3.07, -3.1],
    [-2.35, -2.38, -2.5, -2.75, -3.0, -3.12, -3.15],
    [-2.47, -2.5, -2.61, -2.83, -3.06, -3.18, -3.22],
    [-2.6, -2.62, -2.72, -2.92, -3.12, -3.25, -3.28],
    [-2.75, -2.77, -2.86, -3.03, -3.21, -3.32, -3.35],
    [-2.9, -2.92, -3.0, -3.15, -3.3, -3.4, -3.42],
    [-3.05, -3.07, -3.14, -3.26, -3.4, -3.48, -3.51],
    [-3.2, -3.22, -3.28, -3.38, -3.5, -3.57, -3.6],
    [-3.38, -3.39, -3.44, -3.53, -3.62, -3.68, -3.7],
    [-3.55, -3.56, -3.6, -3.68, -3.75, -3.8, -3.82]
];
const aceEdge = [[2.5, 2.52, 2.58, 2.63, 2.65, 2.65, 2.65]];
const aceMesh = [
    [2.8, 2.93, 2.8, 2.93, 2.8, 2.93, 2.8],
    [2.93, 2.8, 2.93, 2.8, 2.93, 2.8, 2.93],
    [3.15, 3.3, 3.15, 3.3, 3.15, 3.3, 3.15],
    [3.3, 3.15, 3.3, 3.15, 3.3, 3.15, 3.3],
    [3.5, 3.65, 3.5, 3.65, 3.5, 3.65, 3.5],
    [3.65, 3.5, 3.65, 3.5, 3.65, 3.5, 3.65],
    [3.85, 4.0, 3.85, 4.0, 3.85, 4.0, 3.85],
    [-3.08, -3.2, -3.08, -3.2, -3.08, -3.2, -3.08],
    [-3.2, -3.08, -3.2, -3.08, -3.2, -3.08, -3.2],
    [-3.38, -3.5, -3.38, -3.5, -3.38, -3.5, -3.38],
    [-3.5, -3.38, -3.5, -3.38, -3.5, -3.38, -3.5],
    [-3.68, -3.8, -3.68, -3.8, -3.68, -3.8, -3.68],
    [-3.8, -3.68, -3.8, -3.68, -3.8, -3.68, -3.8]
];
const aceBlue = [
    [0.13, 0.36, 0.93, 1.47, 1.7, 1.78, 1.79],
    [-0.14, -0.35, -0.95, -1.65, -2.1, -2.28, -2.33]
];
const acfBulk = [
    [2.85, 2.95, 3.25, 3.85, 4.4, 5.0, 5.5],
    [2.87, 2.98, 3.3, 3.92, 4.5, 5.1, 5.5],
    [2.9, 3.02, 3.35, 4.0, 4.6, 5.2, 5.5],
    [3.05, 3.12, 3.32, 3.7, 4.1, 4.55, 4.8],
    [3.17, 3.23, 3.41, 3.75, 4.12, 4.52, 4.75],
    [3.3, 3.35, 3.5, 3.8, 4.15, 4.5, 4.7],
    [3.45, 3.49, 3.62, 3.88, 4.2, 4.52, 4.7],
    [3.6, 3.63, 3.75, 3.97, 4.25, 4.55, 4.7],
    [3.75, 3.78, 3.87, 4.05, 4.27, 4.5, 4.6],
    [3.9, 3.92, 3.98, 4.12, 4.3, 4.5, 4.6],
    [-1.8, -1.85, -2.0, -2.3, -2.6, -2.7, -2.72],
    [-1.9, -1.94, -2.08, -2.36, -2.65, -2.76, -2.78],
    [-2.0, -2.04, -2.16, -2.42, -2.7, -2.82, -2.85],
    [-2.12, -2.16, -2.27, -2.5, -2.76, -2.88, -2.91],
    [-2.25, -2.28, -2.38, -2.58, -2.82, -2.95, -2.98],
    [-2.4, -2.42, -2.51, -2.69, -2.9, -3.02, -3.05],
    [-2.55, -2.57, -2.65, -2.8, -2.98, -3.1, -3.12],
    [-2.7, -2.72, -2.78, -2.91, -3.06, -3.17, -3.2],
    [-2.85, -2.87, -2.92, -3.03, -3.15, -3.25, -3.28],
    [-3.0, -3.02, -3.06, -3.15, -3.26, -3.35, -3.37],
    [-3.15, -3.17, -3.2, -3.28, -3.38, -3.45, -3.47],
    [-3.32, -3.34, -3.37, -3.44, -3.52, -3.58, -3.6],
    [-3.5, -3.51, -3.54, -3.6, -3.67, -3.72, -3.74]
];
const acfEdge = [
    [1.3, 1.4, 1.65, 2.15, 2.4, 2.5, 2.52],
    [1.55, 1.65, 1.95, 2.55, 2.78, 2.8, 2.8],
    [2.8, 2.8, 2.8, 2.8, 2.8, 2.8, 2.8],
    [-1.02, -1.15, -1.5, -2.1, -2.45, -2.58, -2.6],
    [-1.5, -1.56, -1.75, -2.15, -2.5, -2.62, -2.65]
];
const acfMesh = [
    [2.95, 3.08, 2.95, 3.08, 2.95, 3.08, 2.95],
    [3.08, 2.95, 3.08, 2.95, 3.08, 2.95, 3.08],
    [3.25, 3.4, 3.25, 3.4, 3.25, 3.4, 3.25],
    [3.4, 3.25, 3.4, 3.25, 3.4, 3.25, 3.4],
    [3.6, 3.75, 3.6, 3.75, 3.6, 3.75, 3.6],
    [3.75, 3.6, 3.75, 3.6, 3.75, 3.6, 3.75],
    [3.9, 4.05, 3.9, 4.05, 3.9, 4.05, 3.9],
    [-2.95, -3.08, -2.95, -3.08, -2.95, -3.08, -2.95],
    [-3.08, -2.95, -3.08, -2.95, -3.08, -2.95, -3.08],
    [-3.25, -3.38, -3.25, -3.38, -3.25, -3.38, -3.25],
    [-3.38, -3.25, -3.38, -3.25, -3.38, -3.25, -3.38],
    [-3.58, -3.7, -3.58, -3.7, -3.58, -3.7, -3.58],
    [-3.7, -3.58, -3.7, -3.58, -3.7, -3.58, -3.7]
];
const acfBlue = [
    [0.48, 0.7, 1.15, 1.6, 1.78, 1.83, 1.84],
    [-0.25, -0.45, -0.95, -1.52, -1.9, -2.08, -2.15]
];

// gap markers: [k, top, bottom] and bar extent [from, to]
const gapMarkC = [0.17, 1.0, -0.22];
const gapBarC = [-0.1, 0.43];
const gapMarkF = [-0.35, 0.48, -0.22];
const gapBarF = [-0.57, -0.11];

// energy gap vs carbon atom number
const atomNumber = [4, 8, 12, 16, 20, 24, 28, 32, 36, 40, 44, 48, 52, 56, 60, 64, 68, 72, 76, 80];
const gapBig = [1.30, 1.30, 1.256, 0.584, 0.688, 0.757, 0.379, 0.464, 0.542, 0.275, 0.351, 0.425, 0.219, 0.279, 0.345, 0.181, 0.235, 0.291, 0.153, 0.201];
const gapSmall = [0.285, 0.688, 0.733, 0.132, 0.365, 0.44, 0.086, 0.245, 0.317, 0.064, 0.187, 0.245, 0.05, 0.151, 0.205, 0.04, 0.126, 0.169, 0.036, 0.108];

// panel layout: [left, top, width, height], y range
const panels = [
    { box: [46, 45, 88, 256], y: [-2, 6], bulk: zzaBulk, edge: zzaEdge, blue: [], mesh: [], kind: 'zz' },
    { box: [156, 45, 88, 256], y: [-4, 4], bulk: zzbBulk, edge: zzbEdge, blue: [], mesh: [], kind: 'zz' },
    { box: [267, 48, 88, 253], y: [-4.2, 3.9], bulk: zzcBulk, edge: zzcEdge, blue: [], mesh: [], kind: 'zz' },
    { box: [397, 48, 89, 253], y: [-3.95, 4.2], bulk: zzdBulk, edge: zzdEdge, blue: zzdBlue, mesh: [], kind: 'zz' },
    { box: [507, 46, 88, 255], y: [-5, 3], bulk: zzeBulk, edge: zzeEdge, blue: zzeBlue, mesh: [], kind: 'zz' },
    { box: [617, 48, 88, 253], y: [-4.75, 3.2], bulk: zzfBulk, edge: zzfEdge, blue: zzfBlue, mesh: [], kind: 'zz' },
    { box: [748, 48, 89, 253], y: [-2.5, 5.45], bulk: zzgBulk, edge: zzgEdge, blue: zzgBlue, mesh: [], kind: 'zz' },
    { box: [858, 48, 88, 253], y: [-2.5, 5.45], bulk: zzhBulk, edge: zzhEdge, blue: zzhBlue, mesh: [], kind: 'zz' },
    { box: [968, 48, 88, 253], y: [-2.75, 5.2], bulk: zziBulk, edge: zziEdge, blue: zziBlue, mesh: [], kind: 'zz' },
    { box: [46, 383, 88, 249], y: [-2, 6], bulk: acaBulk, edge: acaEdge, blue: [], mesh: acaMesh, kind: 'ac' },
    { box: [155, 383, 88, 249], y: [-3, 5], bulk: acbBulk, edge: acbEdge, blue: [], mesh: acbMesh, kind: 'ac' },
    { box: [264, 383, 88, 249], y: [-3, 5], bulk: accBulk, edge: accEdge, blue: [], mesh: accMesh, kind: 'ac' },
    { box: [396, 383, 88, 249], y: [-3, 5], bulk: acdBulk, edge: acdEdge, blue: acdBlue, mesh: acdMesh, kind: 'ac' },
    { box: [504, 383, 88, 249], y: [-4, 4], bulk: aceBulk, edge: aceEdge, blue: aceBlue, mesh: aceMesh, kind: 'ac' },
    { box: [614, 383, 88, 249], y: [-4, 4], bulk: acfBulk, edge: acfEdge, blue: acfBlue, mesh: acfMesh, kind: 'ac' }
];

const styles = {
    zz: { bulk: ['#4e4e4e', 0.65], edge: ['#666', 0.9], mesh: ['#4e4e4e', 0.65] },
    ac: { bulk: ['#111', 1.0], edge: ['#111', 1.1], mesh: ['#222', 0.8] }
};
const blueColor = '#3050b2';
const sans = 'Liberation Sans, Arial, sans-serif';
const serif = 'Liberation Serif, Times New Roman, serif';

// mirror half band (Gamma -> X) onto X-Gamma-X and split at gaps
function segments(ks, half) {
    let pts = [];
    for (let i = ks.length - 1; i >= 0; i--) {
        pts.push(half[i] === null ? null : [-ks[i], half[i]]);
    }
    if (ks[0] > 0) {
        pts.push(null);
    }
    for (let i = ks[0] === 0 ? 1 : 0; i < ks.length; i++) {
        pts.push(half[i] === null ? null : [ks[i], half[i]]);
    }
    let out = [];
    let cur = [];
    pts.forEach(function (p) {
        if (p) {
            cur.push(p);
        } else {
            if (cur.length > 1) out.push(cur);
            cur = [];
        }
    });
    if (cur.length > 1) out.push(cur);
    return out;
}

function steps(lo, hi, step) {
    let out = [];
    for (let v = Math.ceil(lo / step - 1e-9) * step; v <= hi + 1e-9; v += step) {
        out.push(Math.round(v * 100) / 100);
    }
    return out;
}

function bandLine(gi, data, st, z) {
    return {
        type: 'line', xAxisIndex: gi, yAxisIndex: gi * 2, data: data,
        smooth: 0.35, symbol: 'none', silent: true, animation: false,
        lineStyle: { color: st[0], width: st[1] }, z: z
    };
}

let grids = [], xAxes = [], yAxes = [], series = [];

panels.forEach(function (p, gi) {
    grids.push({
        left: p.box[0], top: p.box[1], width: p.box[2], height: p.box[3],
        show: true, borderColor: '#666', borderWidth: 1, backgroundColor: 'transparent',
        outerBoundsMode: 'none'
    });
    xAxes.push({
        gridIndex: gi, type: 'value', min: -1, max: 1, position: 'bottom',
        axisLine: { show: false, onZero: false }, axisTick: { show: false }, splitLine: { show: false },
        axisLabel: {
            customValues: [-0.92, 0, 0.92], margin: 12, fontSize: 16, color: '#000', fontFamily: sans,
            formatter: function (v) { return v === 0 ? '{g|Γ}' : 'X'; },
            rich: { g: { fontFamily: serif, fontSize: 17, color: '#000' } }
        }
    });
    ['left', 'right'].forEach(function (pos) {
        yAxes.push({
            gridIndex: gi, type: 'value', min: p.y[0], max: p.y[1], position: pos,
            axisLine: { show: false, onZero: false }, splitLine: { show: false },
            axisTick: { show: true, inside: true, length: 3, customValues: steps(p.y[0], p.y[1], 0.5), lineStyle: { color: '#555' } },
            axisLabel: {
                show: pos === 'left', customValues: steps(p.y[0], p.y[1], 1),
                fontSize: 18, color: '#000', margin: 4, fontFamily: sans
            }
        });
    });
    let st = styles[p.kind];
    p.bulk.forEach(function (b) {
        segments(kMain, b).forEach(function (seg) { series.push(bandLine(gi, seg, st.bulk, 2)); });
    });
    p.mesh.forEach(function (b) {
        segments(kSide, b).forEach(function (seg) { series.push(bandLine(gi, seg, st.mesh, 2)); });
    });
    p.edge.forEach(function (b) {
        segments(kMain, b).forEach(function (seg) { series.push(bandLine(gi, seg, st.edge, 3)); });
    });
    p.blue.forEach(function (b) {
        segments(kMain, b).forEach(function (seg) { series.push(bandLine(gi, seg, [blueColor, 3], 5)); });
    });
});

// gap arrows in AC (c) and AC (f)
function gapMarks(gi, mark, bar) {
    let gray = { color: '#8a8a8a', width: 1 };
    let base = { type: 'line', xAxisIndex: gi, yAxisIndex: gi * 2, silent: true, animation: false, z: 6, lineStyle: gray };
    series.push(Object.assign({}, base, { symbol: 'none', data: [[bar[0], mark[1]], [bar[1], mark[1]]] }));
    series.push(Object.assign({}, base, { symbol: 'none', data: [[bar[0], mark[2]], [bar[1], mark[2]]] }));
    series.push(Object.assign({}, base, {
        symbol: 'arrow', symbolSize: [5, 6], itemStyle: { color: '#8a8a8a' },
        data: [
            { value: [mark[0], mark[1]], symbolRotate: 0 },
            { value: [mark[0], mark[2]], symbolRotate: 180 }
        ]
    }));
}
gapMarks(11, gapMarkC, gapBarC);
gapMarks(14, gapMarkF, gapBarF);

// energy gap chart
const gi = panels.length;
grids.push({
    left: 769, top: 383, width: 286, height: 234, show: true,
    borderColor: '#000', borderWidth: 1, outerBoundsMode: 'none'
});
xAxes.push({
    gridIndex: gi, type: 'value', min: 0, max: 82.6, interval: 8,
    name: 'Carbon Atom Number m', nameLocation: 'middle', nameGap: 20,
    nameTextStyle: { fontSize: 14, color: '#000', fontFamily: sans },
    axisLine: { onZero: false, lineStyle: { color: '#000' } },
    axisTick: { inside: true, length: 4, lineStyle: { color: '#000' } },
    minorTick: { show: true, splitNumber: 2, length: 2, lineStyle: { color: '#000' } },
    splitLine: { show: false },
    axisLabel: { fontSize: 13, color: '#000', margin: 2, showMaxLabel: false, fontFamily: sans }
});
yAxes.push({
    gridIndex: gi, type: 'value', min: 0, max: 1.4, interval: 0.4,
    name: 'Energy Gap (eV)', nameLocation: 'middle', nameGap: 32,
    nameTextStyle: { fontSize: 12, color: '#000', fontFamily: sans },
    axisLine: { show: true, onZero: false, lineStyle: { color: '#000' } },
    axisTick: { inside: true, length: 4, lineStyle: { color: '#000' } },
    minorTick: { show: true, splitNumber: 2, length: 2, lineStyle: { color: '#000' } },
    splitLine: { show: false },
    axisLabel: {
        fontSize: 13, color: '#000', margin: 4, showMaxLabel: false, fontFamily: sans,
        formatter: function (v) { return v.toFixed(1); }
    }
});
series.push({
    name: 'Δ', type: 'line', xAxisIndex: gi, yAxisIndex: gi * 2, animation: false,
    data: atomNumber.map(function (m, i) { return [m, gapBig[i]]; }),
    symbol: 'rect', symbolSize: 7,
    lineStyle: { color: '#000', width: 1 }, itemStyle: { color: '#000' }
});
series.push({
    name: 'δ', type: 'line', xAxisIndex: gi, yAxisIndex: gi * 2, animation: false,
    data: atomNumber.map(function (m, i) { return [m, gapSmall[i]]; }),
    symbol: 'circle', symbolSize: 7,
    lineStyle: { color: '#4a6cc8', width: 1 }, itemStyle: { color: '#4a6cc8' }
});

// titles and labels: [text, x, y, size, align, family]
const labels = [
    ['ZZ,  same topology', 201, 18, 18, 'center', sans],
    ['ZZ,  opposite topology A', 540, 18, 18, 'center', sans],
    ['ZZ,  opposite topology B', 889, 18, 18, 'center', sans],
    ['AC,  same topology', 203, 358, 18, 'center', sans],
    ['AC,  opposite topology', 535, 358, 18, 'center', sans],
    ['(a)', 52, 172, 23, 'left', sans],
    ['(b)', 160, 174, 23, 'left', sans],
    ['(c)', 268, 174, 23, 'left', sans],
    ['(d)', 403, 155, 23, 'left', sans],
    ['(e)', 512, 158, 23, 'left', sans],
    ['(f)', 622, 157, 23, 'left', sans],
    ['(g)', 757, 192, 23, 'left', sans],
    ['(h)', 862, 190, 23, 'left', sans],
    ['(i)', 976, 193, 23, 'left', sans],
    ['(a)', 52, 522, 23, 'left', sans],
    ['(b)', 161, 520, 23, 'left', sans],
    ['(c)', 269, 520, 23, 'left', sans],
    ['(d)', 406, 523, 23, 'left', sans],
    ['(e)', 507, 520, 23, 'left', sans],
    ['(f)', 616, 478, 23, 'left', sans],
    ['Δ', 335, 531, 22, 'center', serif],
    ['δ', 628, 504, 24, 'center', serif]
];
let graphic = labels.map(function (t) {
    return {
        type: 'text', x: t[1], y: t[2], silent: true,
        style: { text: t[0], fontSize: t[3], fontFamily: t[5], fill: '#000', align: t[4], verticalAlign: 'middle' }
    };
});
[[21, 163], [20, 503]].forEach(function (pos) {
    graphic.push({
        type: 'text', x: pos[0], y: pos[1], rotation: Math.PI / 2, silent: true,
        style: { text: 'Energy (eV)', fontSize: 21, fontFamily: sans, fill: '#000', align: 'center', verticalAlign: 'middle' }
    });
});

let chart = echarts.init(document.getElementById('chart'), null, { renderer: 'canvas' });
chart.setOption({
    animation: false,
    backgroundColor: '#fff',
    textStyle: { fontFamily: sans },
    legend: {
        data: ['Δ', 'δ'], orient: 'vertical', left: 963, top: 430,
        itemWidth: 40, itemHeight: 12, itemGap: 11,
        textStyle: { fontFamily: serif, fontSize: 17, color: '#000' }
    },
    grid: grids,
    xAxis: xAxes,
    yAxis: yAxes,
    series: series,
    graphic: graphic
});
</script>
</body>
</html>
